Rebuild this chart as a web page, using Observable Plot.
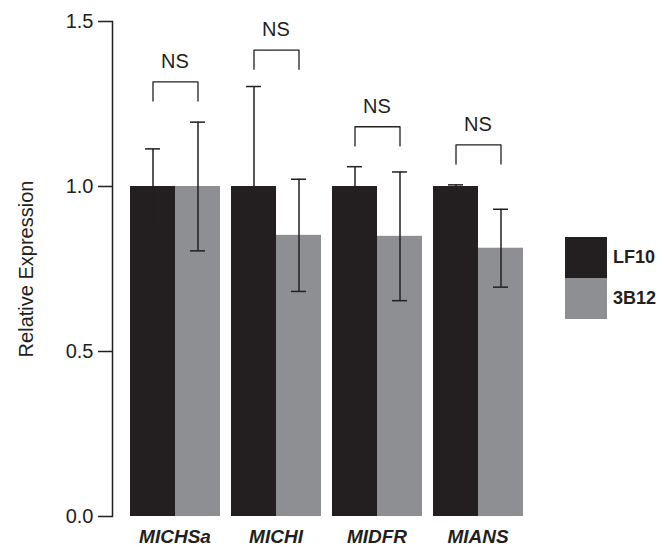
<!DOCTYPE html>
<html>
<head>
<meta charset="utf-8">
<script src="https://cdn.jsdelivr.net/npm/d3@7"></script>
<script src="https://cdn.jsdelivr.net/npm/@observablehq/plot@0.6"></script>
<style>
  body { margin: 0; background: white; }
  #wrap { position: relative; width: 664px; height: 551px; font-family: "Liberation Sans", Arial, sans-serif; color: #231f20; }
  #legend { position: absolute; left: 565px; top: 237px; }
  .row { display: flex; align-items: center; height: 41px; }
  .sw { width: 42px; height: 41px; }
  .lab { margin-left: 6px; font-weight: bold; font-size: 18px; }
</style>
</head>
<body>
<div id="wrap"><div id="chart"></div><div id="legend"></div></div>
<script>
const genes = ["MICHSa", "MICHI", "MIDFR", "MIANS"];
const series = ["LF10", "3B12"];
const lf10 = [1.0, 1.0, 1.0, 1.0];
const lf10Err = [0.114, 0.303, 0.060, 0.005];
const b3b12 = [1.0, 0.852, 0.849, 0.813];
const b3b12Err = [0.195, 0.170, 0.195, 0.118];
const bracketTop = [1.317, 1.413, 1.181, 1.126];
const bracketDrop = 0.058;
const sigLabels = ["NS", "NS", "NS", "NS"];
const colors = ["#231f20", "#8e8f92"];
const yTicks = [0, 0.5, 1.0, 1.5];
const ink = "#231f20";

const data = genes.flatMap((g, i) => [
  {gene: g, series: series[0], value: lf10[i], err: lf10Err[i]},
  {gene: g, series: series[1], value: b3b12[i], err: b3b12Err[i]}
]);
const caps = data.flatMap(d => [
  {gene: d.gene, series: d.series, y: d.value - d.err},
  {gene: d.gene, series: d.series, y: d.value + d.err}
]);
const brackets = genes.flatMap((g, i) => [
  {gene: g, series: series[0], y: bracketTop[i] - bracketDrop},
  {gene: g, series: series[0], y: bracketTop[i]},
  {gene: g, series: series[1], y: bracketTop[i]},
  {gene: g, series: series[1], y: bracketTop[i] - bracketDrop}
]);
const sig = genes.map((g, i) => ({gene: g, y: bracketTop[i] + 0.062, text: sigLabels[i]}));

const chart = Plot.plot({
  width: 664,
  height: 551,
  marginTop: 21,
  marginBottom: 35,
  marginLeft: 123,
  marginRight: 134,
  style: {fontFamily: "Liberation Sans, Arial, sans-serif", color: ink, background: "white"},
  fx: {domain: genes, paddingInner: 0.098, paddingOuter: 0.049, axis: null, label: null},
  x: {domain: series, padding: 0, axis: null},
  y: {domain: [0, 1.5], axis: null},
  color: {domain: series, range: colors},
  marks: [
    Plot.barY(data, {fx: "gene", x: "series", y: "value", fill: "series"}),
    Plot.ruleX(data, {fx: "gene", x: "series", y1: d => d.value - d.err, y2: d => d.value + d.err, stroke: ink, strokeWidth: 1.5}),
    Plot.tickY(caps, {fx: "gene", x: "series", y: "y", stroke: ink, strokeWidth: 1.5, insetLeft: 15, insetRight: 15}),
    Plot.line(brackets, {fx: "gene", x: "series", y: "y", z: "gene", stroke: ink, strokeWidth: 1.3}),
    Plot.text(sig, {fx: "gene", y: "y", text: "text", fontSize: 20, fill: ink}),
    Plot.frame({anchor: "left", dx: -17, facetAnchor: "left", stroke: ink, strokeWidth: 1.5}),
    Plot.axisY(yTicks, {anchor: "left", facetAnchor: "left", dx: -17, tickSize: 14, tickPadding: 5, tickFormat: d3.format(".1f"), fontSize: 20, label: null, stroke: ink, strokeWidth: 1.5}),
    Plot.text(["Relative Expression"], {frameAnchor: "left", facetAnchor: "left", dx: -103, rotate: -90, textAnchor: "middle", fontSize: 20, fill: ink}),
    Plot.axisFx({anchor: "bottom", tickSize: 0, tickPadding: 13, fontSize: 19, fontWeight: "bold", fontStyle: "italic", label: null})
  ]
});
document.getElementById("chart").appendChild(chart);

const legend = document.getElementById("legend");
series.forEach((s, i) => {
  const row = document.createElement("div");
  row.className = "row";
  const sw = document.createElement("div");
  sw.className = "sw";
  sw.style.background = colors[i];
  const lab = document.createElement("span");
  lab.className = "lab";
  lab.textContent = s;
  row.appendChild(sw);
  row.appendChild(lab);
  legend.appendChild(row);
});
</script>
</body>
</html>
